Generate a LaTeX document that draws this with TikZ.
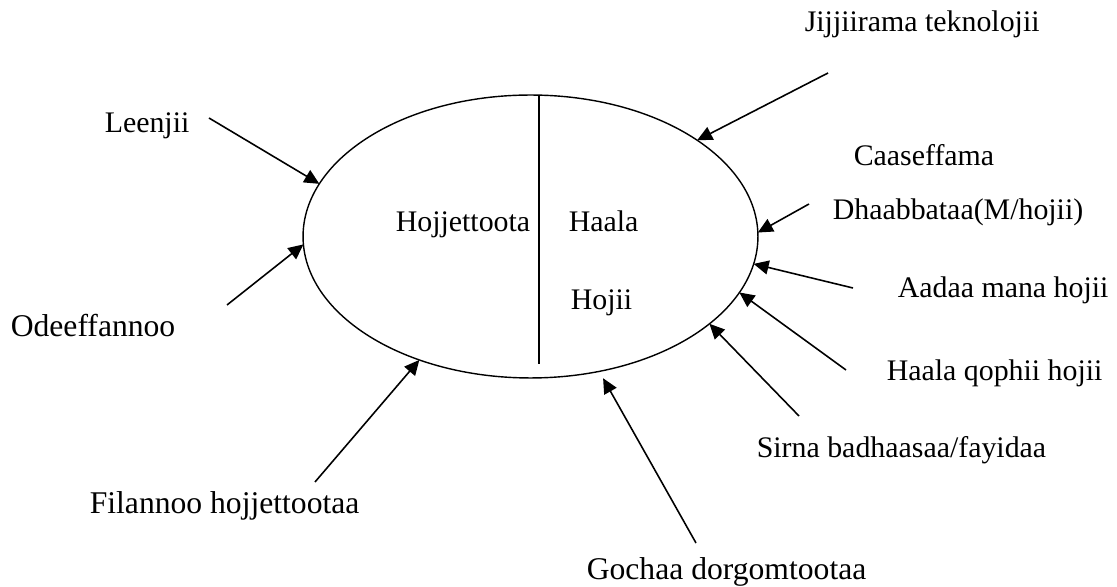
\documentclass[tikz,border=0pt]{standalone}
\usepackage{fontspec}
\setmainfont{Liberation Serif}
\usetikzlibrary{shapes.geometric,arrows.meta}
\begin{document}
\begin{tikzpicture}[x=0.02cm,y=-0.02cm,>={Triangle[length=0.3cm,width=0.28cm]},line width=0.9pt,line join=round,
	lbl/.style={anchor=base west,inner sep=0pt,font=\fontsize{17}{20}\selectfont},
	lblt/.style={lbl,font=\fontsize{18}{21}\selectfont}]
	\useasboundingbox (0,0) rectangle (1117,587);
	\node[draw,ellipse,minimum width=9.1cm,minimum height=5.66cm,inner sep=0pt,outer sep=0pt,line width=0.8pt](oval) at (530.5,236.5){};
	\path
	(539,95.5)coordinate(D1)
	(539,364)coordinate(D2)
	(209,118)coordinate(L)
	(227,305)coordinate(O)
	(315,482)coordinate(F)
	(696,543)coordinate(G)
	(799,416)coordinate(S)
	(846,370)coordinate(Q)
	(853,288)coordinate(A)
	(809,204)coordinate(C)
	(828,73)coordinate(J)
	;
	\draw (D1)--(D2);
	\foreach \x/\g in {L/166.4,O/182,F/228.6,S/334,Q/345.6,A/353,C/1.6,J/30.4} \draw[->](\x)--(oval.\g);
	\draw[->,shorten >=5\pgflinewidth](G)--(oval.297);
	% labels
	\node[lbl](hoj) at (395,232){Hojjettoota};
	\node[lbl](haa) at (568,232){Haala};
	\node[lbl](hji) at (570,310){Hojii};
	\node[lbl](lee) at (104,133){Leenjii};
	\node[lblt](ode) at (10,337){Odeeffannoo};
	\node[lblt](fil) at (89,514){Filannoo hojjettootaa};
	\node[lblt](goc) at (586,580){Gochaa dorgomtootaa};
	\node[lbl](sir) at (756,458){Sirna badhaasaa/fayidaa};
	\node[lbl](qop) at (886,381){Haala qophii hojii};
	\node[lbl](aad) at (897,298){Aadaa mana hojii};
	\node[lbl](dha) at (832,220){Dhaabbataa(M/hojii)};
	\node[lbl](caa) at (853,166){Caaseffama};
	\node[lbl](jij) at (804,32){Jijjiirama teknolojii};
\end{tikzpicture}
\end{document}
